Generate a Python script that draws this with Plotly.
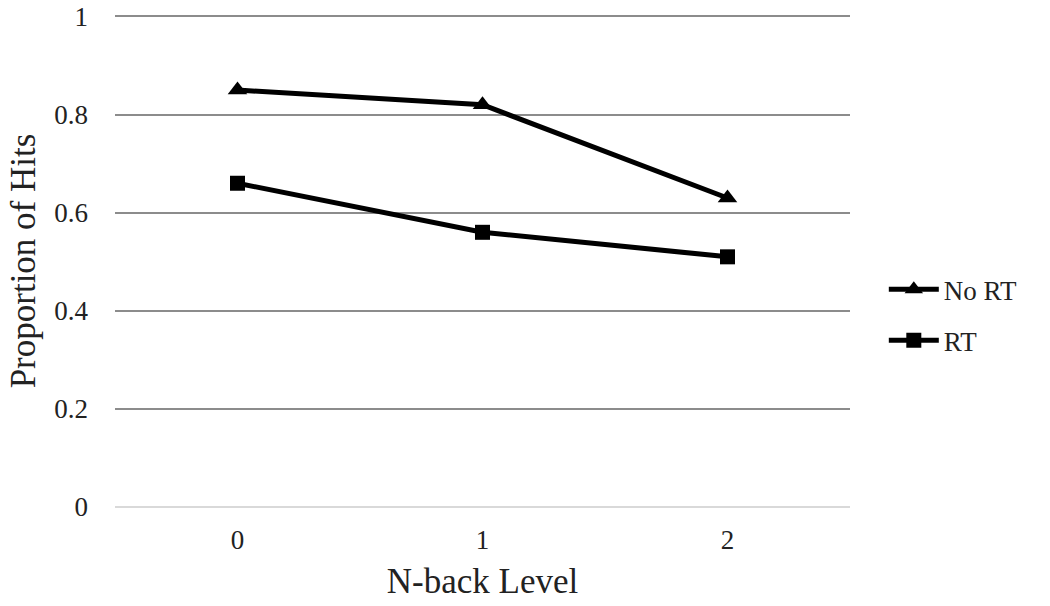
import plotly.graph_objects as go

levels = ["0", "1", "2"]
no_rt = [0.85, 0.82, 0.63]
rt = [0.66, 0.56, 0.51]
y_ticks = [0, 0.2, 0.4, 0.6, 0.8, 1]
y_tick_text = ["0", "0.2", "0.4", "0.6", "0.8", "1"]

fig = go.Figure()
fig.add_trace(go.Scatter(x=levels, y=no_rt, name="No RT", mode="lines+markers", legendgroup="a",
                         line=dict(color="black", width=5),
                         marker=dict(symbol="triangle-up", size=17, color="black")))
fig.add_trace(go.Scatter(x=levels, y=rt, name="RT", mode="lines+markers", legendgroup="b",
                         line=dict(color="black", width=5),
                         marker=dict(symbol="square", size=15, color="black")))

fig.update_layout(
    width=1050, height=606,
    margin=dict(l=115, r=200, t=15, b=99, autoexpand=False),
    plot_bgcolor="white", paper_bgcolor="white",
    font=dict(family="Liberation Serif, Times New Roman, serif", size=27, color="#222"),
    legend=dict(x=1.046, y=0.39, yanchor="middle", xanchor="left", traceorder="grouped",
                font=dict(size=27), tracegroupgap=13, itemwidth=50),
)
fig.update_xaxes(type="category", range=[-0.5, 2.5], showgrid=False, automargin=False,
                 showline=False, ticks="", ticklabelstandoff=14,
                 title=dict(text="N-back Level", font=dict(size=35), standoff=14))
fig.update_yaxes(range=[0, 1.003], tickvals=y_ticks, ticktext=y_tick_text, automargin=False,
                 ticklabeloverflow="allow",
                 showgrid=True, gridcolor="#8c8c8c", gridwidth=1.5,
                 zeroline=True, zerolinecolor="#d9d9d9", zerolinewidth=2,
                 showline=False, ticks="", ticklabelstandoff=26,
                 title=dict(text="Proportion of Hits", font=dict(size=35), standoff=8))

# drop the default 8px page margin so the figure sits at the window's corner
fig.write_html("out.html", config={"displayModeBar": False},
               post_script="document.body.style.margin='0px';")
